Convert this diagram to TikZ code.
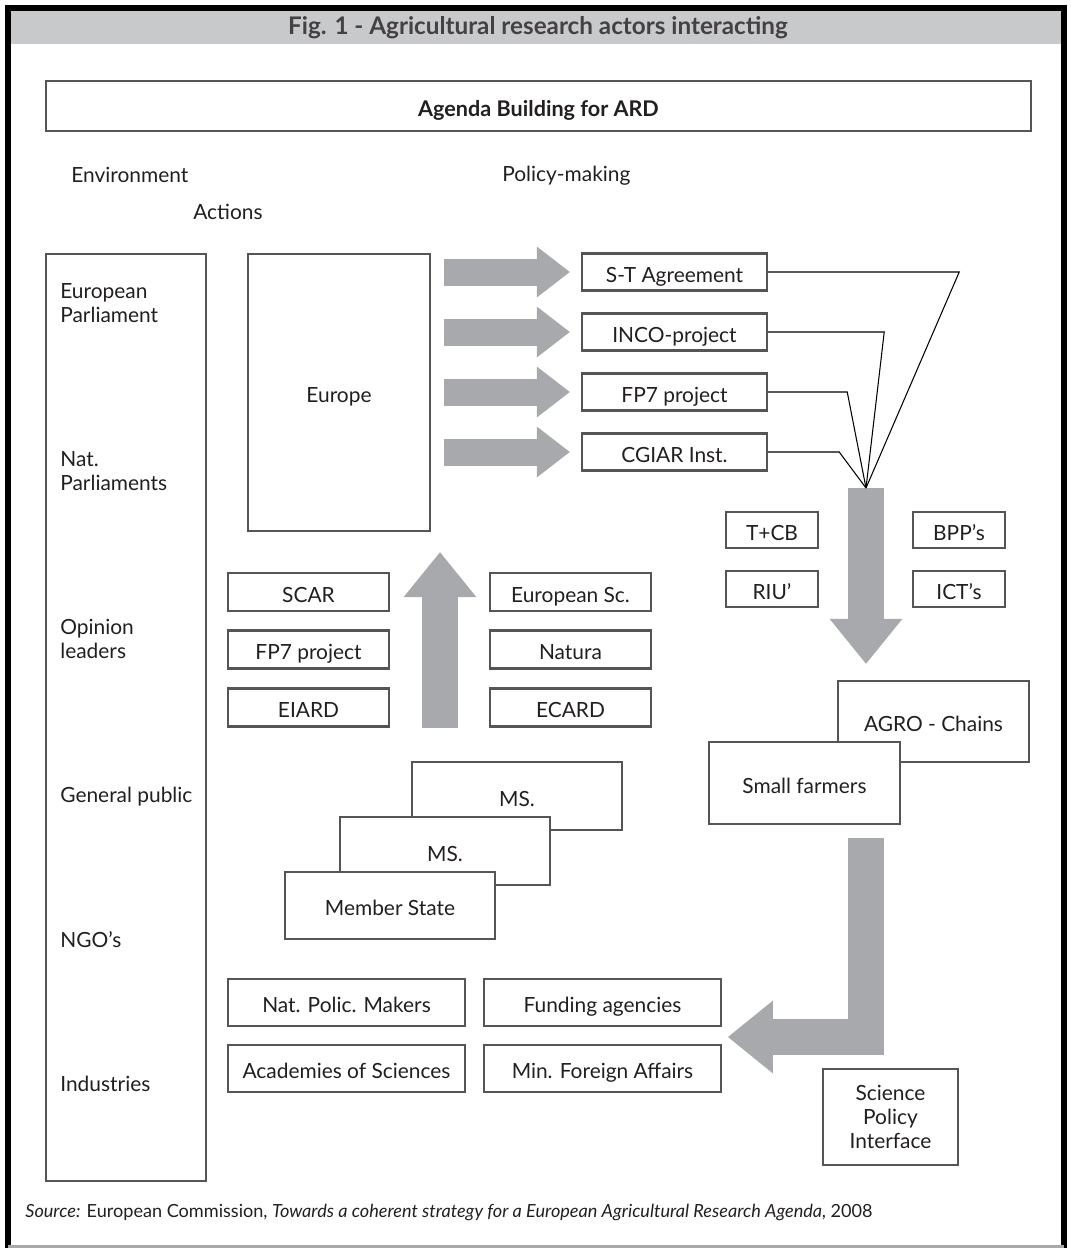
\documentclass[tikz,border=0pt]{standalone}
\usepackage{fontspec}
\setmainfont{Lato}
\usetikzlibrary{arrows.meta}
\definecolor{arrowgray}{RGB}{167,169,172}
\definecolor{bargray}{RGB}{200,201,203}
\definecolor{edgegray}{RGB}{85,85,85}
\definecolor{inkgray}{RGB}{35,31,32}
\newcommand\mainsize{\fontsize{11.9}{13.7}\selectfont}
\newcommand\titlesize{\fontsize{13.8}{15}\selectfont\bfseries}
\newcommand\srcsize{\fontsize{10.3}{12}\selectfont}

\begin{document}
\begin{tikzpicture}[x=0.02cm, y=-0.02cm]
        \tikzset{
            box/.style={draw=edgegray, line width=0.05cm, fill=white, inner sep=0pt, align=center, font=\mainsize, text=inkgray, text height=11.4pt, text depth=0pt},
            tag/.style={anchor=west, align=left, inner sep=0pt, font=\mainsize, text=inkgray},
            link/.style={draw=black, line width=0.6pt},
            rarrow/.style={arrowgray, line width=0.54cm, -{Triangle[length=0.66cm, width=1.02cm, line width=0pt]}},
            varrow/.style={arrowgray, line width=0.72cm, -{Triangle[length=0.9cm, width=1.46cm, line width=0pt]}}
        }

        \useasboundingbox (0,0) rectangle (1071,1248);
        \fill[bargray] (11,11) rectangle (1061,44);
        \draw[black, line width=0.12cm] (8,1248) -- (8,8) -- (1064,8) -- (1064,1248);
        \draw[arrowgray, line width=0.06cm] (8,1246) -- (1064,1246);
        \node[font=\titlesize, text=inkgray!85] (title) at (538,28) {Fig. 1 - Agricultural research actors interacting};

        \node[box, font=\fontsize{12.3}{14}\selectfont\bfseries, minimum width=19.7cm, minimum height=1cm] (agenda) at (538.5,106) {Agenda Building for ARD};
        \node[tag] (env) at (71,175) {Environment};
        \node[tag] (pol) at (502,176) {Policy-making};
        \node[tag] (act) at (193,212) {Actions};

        \node[box, minimum width=3.2cm, minimum height=18.54cm] (actors) at (126,717.5) {};
        \node[tag] (parl) at (60,303) {European\\Parliament};
        \node[tag] (natparl) at (60,471) {Nat.\\Parliaments};
        \node[tag] (opinion) at (60,639) {Opinion\\leaders};
        \node[tag] (public) at (60,797) {General public};
        \node[tag] (ngo) at (60,940) {NGO’s};
        \node[tag] (industry) at (60,1084) {Industries};

        \node[box, minimum width=3.64cm, minimum height=5.54cm] (europe) at (339,392.5) {Europe};

        \node[box, minimum width=3.7cm, minimum height=0.74cm] (st) at (674.5,272) {S-T Agreement};
        \node[box, minimum width=3.7cm, minimum height=0.74cm] (inco) at (674.5,332) {INCO-project};
        \node[box, minimum width=3.7cm, minimum height=0.74cm] (fpr) at (674.5,392) {FP7 project};
        \node[box, minimum width=3.7cm, minimum height=0.74cm] (cgiar) at (674.5,452) {CGIAR Inst.};

        \draw[rarrow, shorten <=0.26cm, shorten >=0.22cm] (europe.east |- st.west) -- (st.west);
        \draw[rarrow, shorten <=0.26cm, shorten >=0.22cm] (europe.east |- inco.west) -- (inco.west);
        \draw[rarrow, shorten <=0.26cm, shorten >=0.22cm] (europe.east |- fpr.west) -- (fpr.west);
        \draw[rarrow, shorten <=0.26cm, shorten >=0.22cm] (europe.east |- cgiar.west) -- (cgiar.west);

        \node[box, minimum width=1.84cm, minimum height=0.72cm] (tcb) at (772,530) {T+CB};
        \node[box, minimum width=1.84cm, minimum height=0.72cm] (riu) at (772,589) {RIU’};
        \node[box, minimum width=1.84cm, minimum height=0.72cm] (bpp) at (959,530) {BPP’s};
        \node[box, minimum width=1.84cm, minimum height=0.72cm] (ict) at (959,589) {ICT’s};

        \node[box, minimum width=3.82cm, minimum height=1.62cm] (agro) at (933.5,721.5) {AGRO - Chains};
        \node[box, minimum width=3.82cm, minimum height=1.64cm] (farmers) at (804.5,783) {Small farmers};

        \coordinate (hub) at (866,488);
        \draw[varrow, shorten >=0.32cm] (hub) -- (hub |- agro.north);
        \draw[link] (st.east) -- ++(191,0) -- (hub);
        \draw[link] (inco.east) -- ++(116,0) -- (hub);
        \draw[link] (fpr.east) -- ++(79,0) -- (hub);
        \draw[link] (cgiar.east) -- ++(71,0) -- (hub);

        \node[box, minimum width=3.22cm, minimum height=0.76cm] (scar) at (308.5,592) {SCAR};
        \node[box, minimum width=3.22cm, minimum height=0.76cm] (fpl) at (308.5,649.5) {FP7 project};
        \node[box, minimum width=3.22cm, minimum height=0.76cm] (eiard) at (308.5,707.5) {EIARD};
        \node[box, minimum width=3.22cm, minimum height=0.76cm] (eusc) at (570.5,592) {European Sc.};
        \node[box, minimum width=3.22cm, minimum height=0.76cm] (natura) at (570.5,649.5) {Natura};
        \node[box, minimum width=3.22cm, minimum height=0.76cm] (ecard) at (570.5,707.5) {ECARD};

        \coordinate (upfoot) at (440,728);
        \draw[varrow, shorten >=0.4cm] (upfoot) -- (upfoot |- europe.south);

        \node[box, minimum width=4.2cm, minimum height=1.36cm] (msb) at (517,796) {MS.};
        \node[box, minimum width=4.2cm, minimum height=1.36cm] (msa) at (445,851) {MS.};
        \node[box, minimum width=4.2cm, minimum height=1.34cm] (member) at (390,905.5) {Member State};

        \node[box, minimum width=4.74cm, minimum height=0.94cm] (natpol) at (346.5,1002.5) {Nat. Polic. Makers};
        \node[box, minimum width=4.74cm, minimum height=0.94cm] (academies) at (346.5,1068.5) {Academies of Sciences};
        \node[box, minimum width=4.74cm, minimum height=0.94cm] (funding) at (602.5,1002.5) {Funding agencies};
        \node[box, minimum width=4.74cm, minimum height=0.94cm] (foreign) at (602.5,1068.5) {Min. Foreign Affairs};

        \coordinate (ltip) at (728,1037);
        \draw[varrow, shorten <=0.26cm] (hub |- farmers.south) |- (ltip);

        \node[box, text height=, text depth=, minimum width=2.7cm, minimum height=1.92cm] (spi) at (890.5,1117) {Science\\Policy\\Interface};

        \node[anchor=west, inner sep=0pt, font=\srcsize, text=inkgray] (source) at (25,1212) {\textit{Source:} European Commission, \textit{Towards a coherent strategy for a European Agricultural Research Agenda}, 2008};
    \end{tikzpicture}
\end{document}
